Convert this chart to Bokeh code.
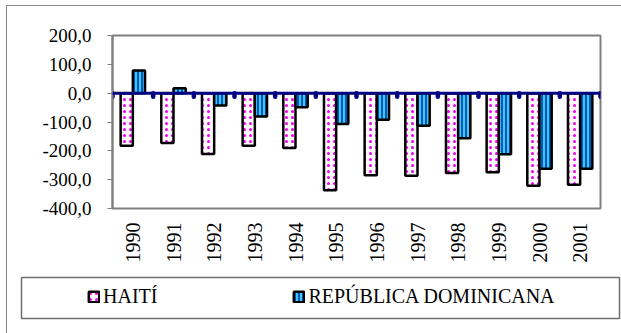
import math
from bokeh.plotting import figure
from bokeh.layouts import column, row
from bokeh.models import (ColumnDataSource, FactorRange, Range1d, FixedTicker,
                          Legend, LegendItem, Span)
from bokeh.transform import dodge
from bokeh.embed import file_html
from bokeh.resources import INLINE

# ---- data ----
years = ["1990", "1991", "1992", "1993", "1994", "1995",
         "1996", "1997", "1998", "1999", "2000", "2001"]
haiti = [-182, -173, -211, -182, -190, -337, -285, -286, -277, -274, -321, -318]
rep_dom = [79, 17, -43, -81, -49, -107, -92, -113, -156, -212, -262, -262]
series_names = ["HAITÍ", "REPÚBLICA DOMINICANA"]
y_ticks = [-400, -300, -200, -100, 0, 100, 200]
y_labels = ["-400,0", "-300,0", "-200,0", "-100,0", "0,0", "100,0", "200,0"]

src = ColumnDataSource(dict(year=years, haiti=haiti, rd=rep_dom))
last_src = ColumnDataSource(dict(year=[years[-1]]))

FONT = "Liberation Serif"

HAITI_STYLE = dict(fill_color="#fff8fd", line_color="black", line_width=2.5,
                   hatch_pattern="dot", hatch_color="#ee00ee",
                   hatch_scale=6, hatch_weight=1.5)
RD_STYLE = dict(fill_color="#33ccff", line_color="black", line_width=2.5,
                hatch_pattern="vertical_line", hatch_color="#000080",
                hatch_scale=4, hatch_weight=1.2)

p = figure(width=614, height=259,
           x_range=FactorRange(factors=years, range_padding=0),
           y_range=Range1d(y_ticks[0], y_ticks[-1]),
           output_backend="svg", toolbar_location=None,
           min_border_left=105, min_border_right=21,
           min_border_top=29, min_border_bottom=57)
p.background_fill_color = "white"
p.border_fill_color = "white"
p.outline_line_color = "#808080"
p.outline_line_width = 2
p.xgrid.visible = False
p.ygrid.visible = False

r1 = p.vbar(x=dodge("year", -0.15, range=p.x_range), top="haiti", bottom=0,
            width=0.3, source=src, **HAITI_STYLE)
r2 = p.vbar(x=dodge("year", 0.15, range=p.x_range), top="rd", bottom=0,
            width=0.3, source=src, **RD_STYLE)

# zero line with category-boundary tick marks
p.add_layout(Span(location=0, dimension="width", line_color="#000080", line_width=3))
p.segment(x0=dodge("year", -0.5, range=p.x_range), y0=0,
          x1=dodge("year", -0.5, range=p.x_range), y1=-12,
          source=src, line_color="#000080", line_width=4.5, line_cap="round")
p.segment(x0=dodge("year", 0.5, range=p.x_range), y0=0,
          x1=dodge("year", 0.5, range=p.x_range), y1=-12,
          source=last_src, line_color="#000080", line_width=4.5, line_cap="round")

# y axis
p.yaxis.ticker = FixedTicker(ticks=y_ticks)
p.yaxis.major_label_overrides = dict(zip(y_ticks, y_labels))
p.yaxis.axis_line_color = "#808080"
p.yaxis.axis_line_width = 2
p.yaxis.major_tick_line_color = "#808080"
p.yaxis.major_tick_out = 5
p.yaxis.major_tick_in = 0
p.yaxis.minor_tick_line_color = None
p.yaxis.major_label_standoff = 16
p.yaxis.major_label_text_font = FONT
p.yaxis.major_label_text_font_size = "19px"
p.yaxis.major_label_text_color = "black"

# x axis
p.xaxis.axis_line_color = None
p.xaxis.major_tick_line_color = None
p.xaxis.major_tick_out = 0
p.xaxis.major_tick_in = 0
p.xaxis.minor_tick_line_color = None
p.xaxis.major_label_orientation = math.pi / 2
p.xaxis.major_label_standoff = 14
p.xaxis.major_label_text_font = FONT
p.xaxis.major_label_text_font_size = "20px"
p.xaxis.major_label_text_color = "black"

# ---- legend panel (its frame is the legend box) ----
lg = figure(width=614, height=68, x_range=Range1d(0, 1), y_range=Range1d(0, 1),
            output_backend="svg", toolbar_location=None,
            x_axis_location=None, y_axis_location=None,
            min_border_left=14, min_border_right=2,
            min_border_top=12, min_border_bottom=15)
lg.background_fill_color = "white"
lg.border_fill_color = "white"
lg.outline_line_color = "#707070"
lg.outline_line_width = 1.5
lg.xgrid.visible = False
lg.ygrid.visible = False
lr1 = lg.vbar(x=[0.5], top=[0.5], bottom=[0.5], width=0, **HAITI_STYLE)
lr2 = lg.vbar(x=[0.5], top=[0.5], bottom=[0.5], width=0, **RD_STYLE)

legend = Legend(items=[LegendItem(label=series_names[0], renderers=[lr1]),
                       LegendItem(label=series_names[1], renderers=[lr2])],
                orientation="horizontal", location=(56, 0),
                spacing=135, padding=10, glyph_width=13, glyph_height=13,
                label_standoff=3, label_height=21,
                label_text_font=FONT, label_text_font_size="20px",
                label_text_color="black",
                border_line_alpha=0, background_fill_alpha=0)
lg.add_layout(legend, "center")

layout = column(p, row(lg), spacing=0)
layout.margin = (6, 0, 0, 7)
layout.styles = {"outline": "1.5px solid #8a8a8a", "outline-offset": "0px"}

open("out.html", "w").write(file_html(layout, INLINE))
